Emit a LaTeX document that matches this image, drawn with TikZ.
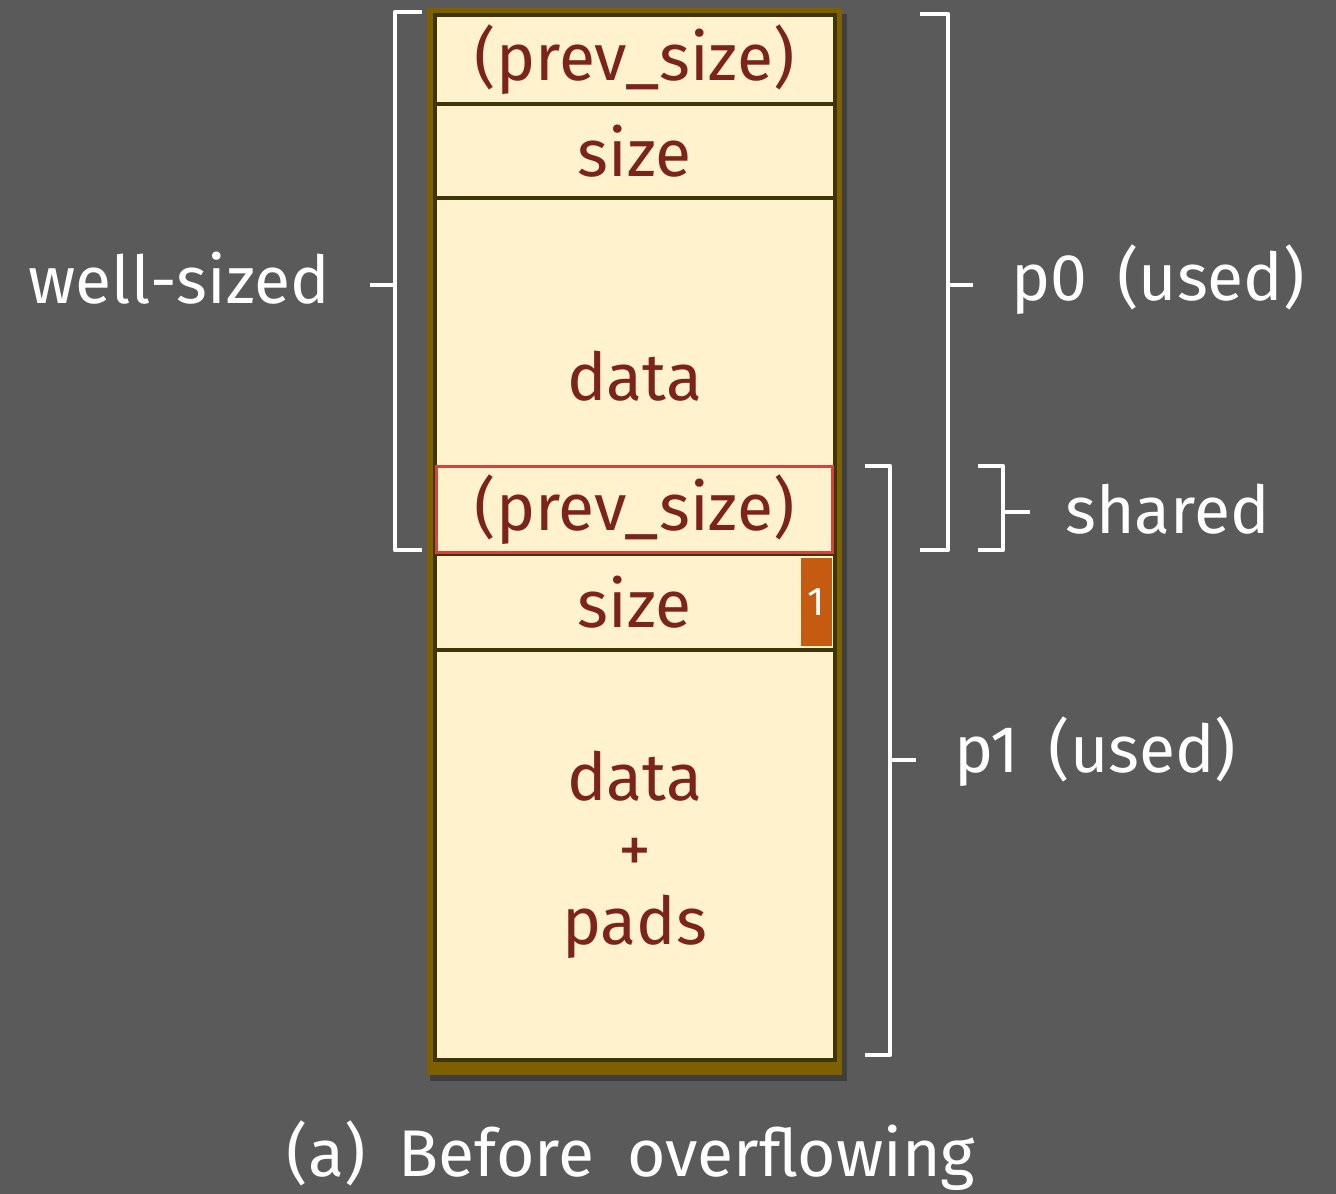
\documentclass[tikz,border=0pt]{standalone}
\usepackage{fontspec}
\setmainfont{Fira Sans}
\usetikzlibrary{positioning}

\definecolor{bggray}{HTML}{5A5A5A}
\definecolor{cream}{HTML}{FFF2CC}
\definecolor{goldframe}{HTML}{7F6000}
\definecolor{sepline}{HTML}{3E3608}
\definecolor{cellred}{HTML}{7B241C}
\definecolor{redline}{HTML}{D0453C}
\definecolor{flagorange}{HTML}{C55A11}

\newcommand\cellfont{\fontsize{66}{72}\selectfont}
\newcommand\flagfont{\fontsize{40}{44}\selectfont}

\begin{document}
\begin{tikzpicture}[x=1pt, y=-1pt,
  cell/.style={draw=sepline, line width=3.5pt, fill=cream, minimum width=400pt,
    inner sep=0pt, anchor=north west, text=cellred, font=\cellfont, align=center},
  bracket/.style={draw=white, line width=4.5pt, line join=round},
  lbl/.style={text=white, font=\cellfont, inner sep=0pt}]

  % Canvas
  \useasboundingbox (0,0) rectangle (1336,1194);
  \fill[bggray] (0,0) rectangle (1336,1194);

  % Column frame with its shadow
  \fill[black, opacity=.3] (430,14) rectangle (847,1081);
  \fill[goldframe] (427,8) rectangle (842,1075);

  % Chunk cells (name/top/height/text)
  \foreach \name/\top/\hgt/\txt in {c0/13/89/(prev\_size), c1/102/94/size,
      c2/196/356/data, c3/552/96/size, c4/648/410/{data\\+\\pads}} {
    \node[cell, minimum height=\hgt pt] (\name) at (433,\top) {\txt};
  }

  % Shared prev_size field and the in-use flag
  \node[cell, draw=redline, line width=3pt, minimum width=396pt, minimum height=86pt]
    (shr) at (435,465) {(prev\_size)};
  \node[fill=flagorange, minimum width=31pt, minimum height=88pt, inner sep=0pt,
    anchor=north east, text=white, font=\flagfont] (flag) at (832,558) {1};

  % Left bracket: well-sized
  \coordinate (wsTick) at (370,285);
  \draw[bracket] (422,12) -- (395,12) -- (395,550) -- (422,550);
  \draw[bracket] (395,285) -- (wsTick);
  \node[lbl, anchor=base east] (wslbl) at ([xshift=-40pt, yshift=-18pt]wsTick) {well-sized};

  % Right bracket: p0
  \coordinate (p0Tick) at (973,285);
  \draw[bracket] (920,14) -- (948,14) -- (948,550) -- (920,550);
  \draw[bracket] (948,285) -- (p0Tick);
  \node[lbl, anchor=base west] (p0lbl) at ([xshift=38pt, yshift=-15pt]p0Tick)
    {p0\hspace{30pt}(used)};

  % Right bracket: shared
  \coordinate (shTick) at (1030,512);
  \draw[bracket] (978,466) -- (1003,466) -- (1003,550) -- (978,550);
  \draw[bracket] (1003,512) -- (shTick);
  \node[lbl, anchor=base west] (shlbl) at ([xshift=35pt, yshift=-21pt]shTick) {shared};

  % Right bracket: p1
  \coordinate (p1Tick) at (916,760);
  \draw[bracket] (865,466) -- (890,466) -- (890,1055) -- (865,1055);
  \draw[bracket] (890,760) -- (p1Tick);
  \node[lbl, anchor=base west] (p1lbl) at ([xshift=38pt, yshift=-12pt]p1Tick)
    {p1\hspace{30pt}(used)};

  % Caption
  \node[lbl, anchor=base] (cap) at (631,1176)
    {(a)\hspace{33pt}Before\hspace{33pt}overflowing};

\end{tikzpicture}
\end{document}
